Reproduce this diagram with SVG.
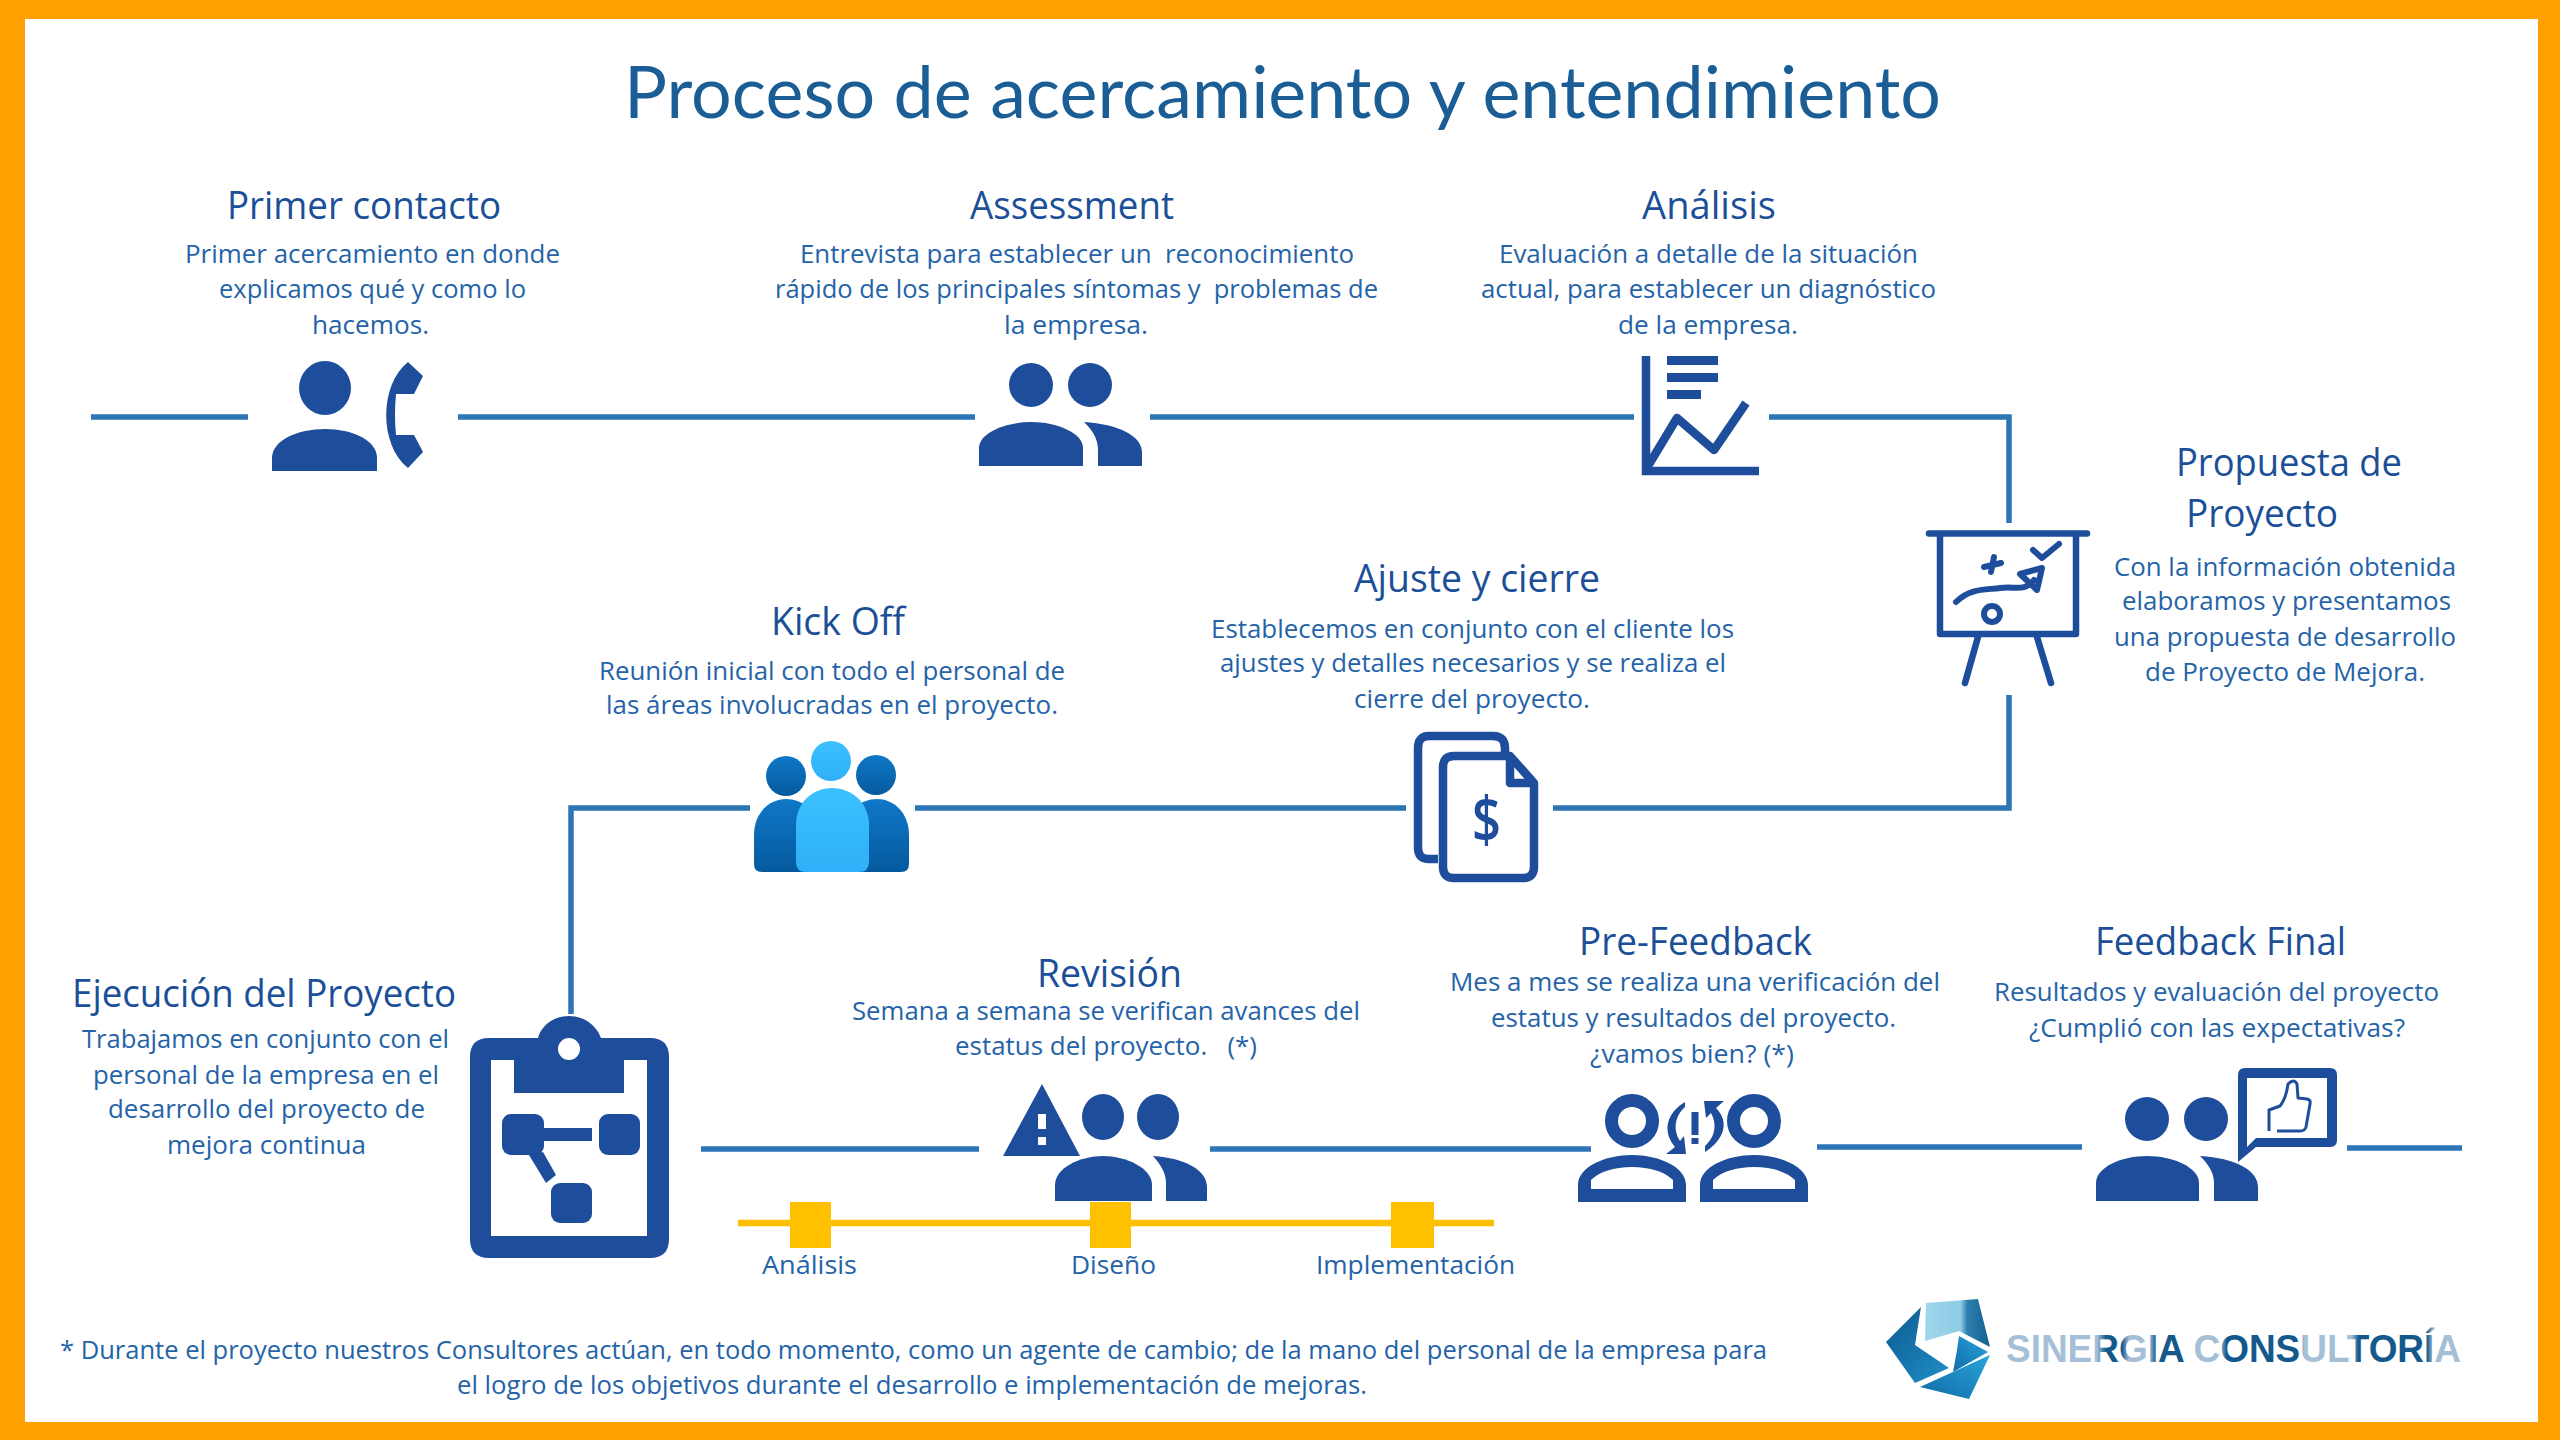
<svg xmlns="http://www.w3.org/2000/svg" width="2560" height="1440" viewBox="0 0 2560 1440">
<style>
text{white-space:pre}
.b{font:25.500px "Open Sans","Noto Sans",sans-serif;fill:#2563a8}
.h{font:500 38px "Open Sans","Noto Sans",sans-serif;fill:#1b4f97}
.c{fill:none;stroke:#2e75b6;stroke-width:5.5}
.i{fill:#1e4d9b}
.s{fill:none;stroke:#1e4d9b;stroke-linecap:round;stroke-linejoin:round}
</style>
<defs>
<linearGradient id="gd" x1="0" y1="0" x2="0" y2="1"><stop offset="0" stop-color="#0f78c8"/><stop offset="1" stop-color="#055a9e"/></linearGradient>
<linearGradient id="gl" x1="0" y1="0" x2="0" y2="1"><stop offset="0" stop-color="#3cc0ff"/><stop offset="1" stop-color="#2fb0f8"/></linearGradient>
<linearGradient id="lg1" x1="0" y1="0" x2="1" y2="1"><stop offset="0" stop-color="#0d5a8f"/><stop offset="1" stop-color="#1f8fc8"/></linearGradient>
<linearGradient id="lg2" x1="0" y1="0" x2="1" y2="0"><stop offset="0" stop-color="#9fd6ec"/><stop offset=".55" stop-color="#8ecbe4"/><stop offset=".65" stop-color="#2f7fb0"/><stop offset="1" stop-color="#11608f"/></linearGradient>
<linearGradient id="lg3" x1="0" y1="1" x2="1" y2="0"><stop offset="0" stop-color="#0f6ca6"/><stop offset="1" stop-color="#2aa3dc"/></linearGradient>
<linearGradient id="lt" gradientUnits="userSpaceOnUse" x1="2006" y1="0" x2="2461" y2="0">
<stop offset="0" stop-color="#a5bfd6"/><stop offset=".2" stop-color="#a5bfd6"/><stop offset=".22" stop-color="#15588c"/><stop offset=".255" stop-color="#15588c"/><stop offset=".27" stop-color="#a5bfd6"/><stop offset=".315" stop-color="#a5bfd6"/><stop offset=".33" stop-color="#15588c"/><stop offset=".39" stop-color="#15588c"/><stop offset=".41" stop-color="#a5bfd6"/><stop offset=".47" stop-color="#a5bfd6"/><stop offset=".485" stop-color="#15588c"/><stop offset=".64" stop-color="#15588c"/><stop offset=".655" stop-color="#a5bfd6"/><stop offset=".76" stop-color="#a5bfd6"/><stop offset=".775" stop-color="#15588c"/><stop offset=".925" stop-color="#15588c"/><stop offset=".94" stop-color="#a5bfd6"/><stop offset="1" stop-color="#a5bfd6"/>
</linearGradient>
</defs>
<rect width="2560" height="1440" fill="#ff9f00"/>
<rect x="25" y="19" width="2513" height="1403" fill="#fff"/>
<text id="title" x="624" y="118" textLength="1317" lengthAdjust="spacingAndGlyphs" style="font:400 72px Lato,'Open Sans',sans-serif;fill:#1b5e96">Proceso de acercamiento y entendimiento</text>

<g id="connectors">
<path class="c" d="M91 417H248M458 417H975M1150 417H1634M1769 417H2009V523M2009 695V808H1553M1406 808H915M750 808H571V1014M701 1149H979M1210 1149H1591M1817 1147H2082M2347 1148H2462"/>
</g>

<g id="timeline">
<path d="M738 1223H1494" stroke="#ffc000" stroke-width="6.5" fill="none"/>
<rect x="790" y="1202" width="41" height="46" fill="#ffc000"/>
<rect x="1090" y="1202" width="41" height="46" fill="#ffc000"/>
<rect x="1391" y="1202" width="43" height="46" fill="#ffc000"/>
<text class="b" x="762" y="1274" textLength="95" lengthAdjust="spacingAndGlyphs">Análisis</text>
<text class="b" x="1071" y="1274" textLength="85" lengthAdjust="spacingAndGlyphs">Diseño</text>
<text class="b" x="1316" y="1274" textLength="199" lengthAdjust="spacingAndGlyphs">Implementación</text>
</g>

<g id="primer-contacto">
<text class="h" x="227" y="218.500" textLength="274" lengthAdjust="spacingAndGlyphs">Primer contacto</text>
<text class="b" x="185" y="263" textLength="375" lengthAdjust="spacingAndGlyphs">Primer acercamiento en donde</text>
<text class="b" x="219" y="298" textLength="307" lengthAdjust="spacingAndGlyphs">explicamos qué y como lo</text>
<text class="b" x="312" y="334" textLength="117" lengthAdjust="spacingAndGlyphs">hacemos.</text>
<ellipse class="i" cx="325" cy="388" rx="26" ry="27"/>
<path class="i" d="M272 471V458C272 440 298 429 325 429S377 440 377 458V471Z"/>
<path class="i" d="M408 362L423 376L414 394H396Q394 415 396 435H414L423 452L408 468C379 445 379 385 408 362Z"/>
</g>

<g id="assessment">
<text class="h" x="970" y="218.500" textLength="204" lengthAdjust="spacingAndGlyphs">Assessment</text>
<text class="b" x="800" y="263" textLength="554" lengthAdjust="spacingAndGlyphs">Entrevista para establecer un  reconocimiento</text>
<text class="b" x="775" y="298" textLength="603" lengthAdjust="spacingAndGlyphs">rápido de los principales síntomas y  problemas de</text>
<text class="b" x="1004" y="334" textLength="144" lengthAdjust="spacingAndGlyphs">la empresa.</text>
<ellipse class="i" cx="1031" cy="385" rx="22" ry="22"/>
<ellipse class="i" cx="1090" cy="385" rx="22" ry="22"/>
<path class="i" d="M979 466V448C979 433 1005 422 1031 422S1083 433 1083 448V466Z"/>
<path class="i" d="M1084 422C1118 424 1142 436 1142 452V466H1098V450C1098 438 1092 430 1084 422Z"/>
</g>

<g id="analisis">
<text class="h" x="1642" y="218.500" textLength="134" lengthAdjust="spacingAndGlyphs">Análisis</text>
<text class="b" x="1499" y="263" textLength="419" lengthAdjust="spacingAndGlyphs">Evaluación a detalle de la situación</text>
<text class="b" x="1481" y="298" textLength="455" lengthAdjust="spacingAndGlyphs">actual, para establecer un diagnóstico</text>
<text class="b" x="1618" y="334" textLength="180" lengthAdjust="spacingAndGlyphs">de la empresa.</text>
<path d="M1646 356V471H1759" fill="none" stroke="#1e4d9b" stroke-width="8.5"/>
<path class="i" d="M1667 356h51v9h-51zM1667 373h51v9h-51zM1667 390h34v9h-34z"/>
<path d="M1648 466L1677 418L1714 450L1746 403" fill="none" stroke="#1e4d9b" stroke-width="8.5" stroke-linejoin="round"/>
</g>

<g id="propuesta">
<text class="h" x="2176" y="476" textLength="226" lengthAdjust="spacingAndGlyphs">Propuesta de</text>
<text class="h" x="2186" y="527" textLength="152" lengthAdjust="spacingAndGlyphs">Proyecto</text>
<text class="b" x="2114" y="576" textLength="342" lengthAdjust="spacingAndGlyphs">Con la información obtenida</text>
<text class="b" x="2122" y="610" textLength="329" lengthAdjust="spacingAndGlyphs">elaboramos y presentamos</text>
<text class="b" x="2114" y="646" textLength="342" lengthAdjust="spacingAndGlyphs">una propuesta de desarrollo</text>
<text class="b" x="2145" y="681" textLength="280" lengthAdjust="spacingAndGlyphs">de Proyecto de Mejora.</text>
<path class="s" stroke-width="6.5" d="M1929 533.500H2087M1940 534V634H2076V534M1978 637L1965 683M2037 637L2051 683"/>
<path class="s" stroke-width="6" d="M1984 567L2001 563M1994 557L1991 572M2033 550L2042 558L2059 544M1956 602C1970 588 1985 590 2000 588S2025 592 2034 580M2020 574L2042 568L2037 590Z"/>
<circle cx="1992" cy="614" r="8" fill="none" stroke="#1e4d9b" stroke-width="6"/>
</g>

<g id="ajuste">
<text class="h" x="1354" y="592" textLength="246" lengthAdjust="spacingAndGlyphs">Ajuste y cierre</text>
<text class="b" x="1211" y="638" textLength="523" lengthAdjust="spacingAndGlyphs">Establecemos en conjunto con el cliente los</text>
<text class="b" x="1220" y="672" textLength="506" lengthAdjust="spacingAndGlyphs">ajustes y detalles necesarios y se realiza el</text>
<text class="b" x="1354" y="708" textLength="236" lengthAdjust="spacingAndGlyphs">cierre del proyecto.</text>
<path d="M1438 859H1429Q1418 859 1418 848V748Q1418 736 1429 736H1493Q1505 736 1505 748V756" fill="none" stroke="#1e4d9b" stroke-width="8.500"/>
<path d="M1510 756H1454Q1443 756 1443 767V867Q1443 878 1454 878H1523Q1534 878 1534 867V783ZM1510 756V783H1534" fill="none" stroke="#1e4d9b" stroke-width="8.500" stroke-linejoin="round"/>
<text x="1472" y="842" textLength="29" lengthAdjust="spacingAndGlyphs" style="font:600 63px 'Open Sans',sans-serif;fill:#1e4d9b">$</text>
</g>

<g id="kick-off">
<text class="h" x="771" y="634.500" textLength="134" lengthAdjust="spacingAndGlyphs">Kick Off</text>
<text class="b" x="599" y="680" textLength="466" lengthAdjust="spacingAndGlyphs">Reunión inicial con todo el personal de</text>
<text class="b" x="606" y="714" textLength="452" lengthAdjust="spacingAndGlyphs">las áreas involucradas en el proyecto.</text>
<ellipse cx="786" cy="776" rx="20" ry="20" fill="url(#gd)"/>
<ellipse cx="876" cy="775" rx="20" ry="20" fill="url(#gd)"/>
<path d="M754 864V835C754 812 770 799 786 799S818 812 830 830V872H762Q754 872 754 864Z" fill="url(#gd)"/>
<path d="M909 864V835C909 812 893 799 877 799S845 812 833 830V872H901Q909 872 909 864Z" fill="url(#gd)"/>
<ellipse cx="831" cy="761" rx="20" ry="20" fill="url(#gl)"/>
<path d="M796 862V825C796 803 812 788 832 788S869 803 869 825V862Q869 872 859 872H806Q796 872 796 862Z" fill="url(#gl)"/>
</g>

<g id="ejecucion">
<text class="h" x="72" y="1006.500" textLength="384" lengthAdjust="spacingAndGlyphs">Ejecución del Proyecto</text>
<text class="b" x="82" y="1048" textLength="367" lengthAdjust="spacingAndGlyphs">Trabajamos en conjunto con el</text>
<text class="b" x="93" y="1084" textLength="346" lengthAdjust="spacingAndGlyphs">personal de la empresa en el</text>
<text class="b" x="108" y="1118" textLength="317" lengthAdjust="spacingAndGlyphs">desarrollo del proyecto de</text>
<text class="b" x="167" y="1154" textLength="199" lengthAdjust="spacingAndGlyphs">mejora continua</text>
<path fill-rule="evenodd" class="i" d="M538 1038C542 1024 555 1016 569 1016S596 1024 601 1038H650Q669 1038 669 1057V1239Q669 1258 650 1258H489Q470 1258 470 1239V1057Q470 1038 489 1038ZM491 1060V1236H647V1060H624V1093H514V1060ZM580 1049A11 11 0 1 0 558 1049A11 11 0 1 0 580 1049Z"/>
<rect class="i" x="502" y="1114" width="42" height="41" rx="9"/>
<rect class="i" x="599" y="1114" width="41" height="41" rx="9"/>
<rect class="i" x="551" y="1183" width="41" height="40" rx="9"/>
<path class="i" d="M544 1128H592V1141H544ZM529 1155L543 1152L556 1175L546 1183Z"/>
</g>

<g id="revision">
<text class="h" x="1037" y="986.500" textLength="145" lengthAdjust="spacingAndGlyphs">Revisión</text>
<text class="b" x="852" y="1020" textLength="508" lengthAdjust="spacingAndGlyphs">Semana a semana se verifican avances del</text>
<text class="b" x="955" y="1055" textLength="302" lengthAdjust="spacingAndGlyphs">estatus del proyecto.   (*)</text>
<path fill-rule="evenodd" class="i" d="M1042 1084L1080 1156H1003ZM1038 1114V1129H1046V1114ZM1038 1137V1145H1046V1137Z"/>
<ellipse class="i" cx="1103" cy="1117" rx="21" ry="23"/>
<ellipse class="i" cx="1158" cy="1117" rx="21" ry="23"/>
<path class="i" d="M1055 1201V1185C1055 1168 1080 1156 1103 1156S1152 1168 1152 1185V1201Z"/>
<path class="i" d="M1153 1156C1185 1158 1207 1170 1207 1187V1201H1166V1183C1166 1172 1160 1164 1153 1156Z"/>
</g>

<g id="pre-feedback">
<text class="h" x="1579" y="954.500" textLength="233" lengthAdjust="spacingAndGlyphs">Pre-Feedback</text>
<text class="b" x="1450" y="991" textLength="490" lengthAdjust="spacingAndGlyphs">Mes a mes se realiza una verificación del</text>
<text class="b" x="1491" y="1027" textLength="405" lengthAdjust="spacingAndGlyphs">estatus y resultados del proyecto.</text>
<text class="b" x="1590" y="1063" textLength="204" lengthAdjust="spacingAndGlyphs">¿vamos bien? (*)</text>
<circle cx="1632" cy="1121" r="20.500" fill="none" stroke="#1e4d9b" stroke-width="13"/>
<circle cx="1754" cy="1121" r="20.500" fill="none" stroke="#1e4d9b" stroke-width="13"/>
<path fill-rule="evenodd" class="i" d="M1578 1202V1185C1578 1167 1605 1155 1632 1155S1686 1167 1686 1185V1202ZM1591 1189H1673V1180C1665 1172 1650 1167 1632 1167S1599 1172 1591 1180Z"/>
<path fill-rule="evenodd" class="i" d="M1700 1202V1185C1700 1167 1727 1155 1754 1155S1808 1167 1808 1185V1202ZM1713 1189H1795V1180C1787 1172 1772 1167 1754 1167S1721 1172 1713 1180Z"/>
<path class="i" d="M1691.500 1112h7v23h-7zM1691.500 1138h7v6h-7z"/>
<path class="i" d="M1685 1102C1668 1112 1661 1130 1675 1147L1666 1154H1686L1684 1136L1680 1141C1672 1128 1676 1115 1685 1107Z"/>
<path class="i" d="M1705 1152C1724 1140 1730 1122 1716 1108L1724 1101H1704L1706 1118L1711 1113C1718 1126 1714 1138 1705 1146Z"/>
</g>

<g id="feedback-final">
<text class="h" x="2095" y="954.500" textLength="251" lengthAdjust="spacingAndGlyphs">Feedback Final</text>
<text class="b" x="1994" y="1001" textLength="445" lengthAdjust="spacingAndGlyphs">Resultados y evaluación del proyecto</text>
<text class="b" x="2029" y="1037" textLength="376" lengthAdjust="spacingAndGlyphs">¿Cumplió con las expectativas?</text>
<ellipse class="i" cx="2147" cy="1119" rx="22" ry="22"/>
<ellipse class="i" cx="2206" cy="1119" rx="22" ry="22"/>
<path class="i" d="M2096 1201V1183C2096 1167 2122 1156 2147 1156S2199 1167 2199 1183V1201Z"/>
<path class="i" d="M2200 1156C2235 1158 2258 1170 2258 1187V1201H2214V1183C2214 1172 2208 1164 2200 1156Z"/>
<path fill-rule="evenodd" class="i" d="M2238 1162V1075Q2238 1068 2245 1068H2330Q2337 1068 2337 1075V1140Q2337 1147 2330 1147H2256ZM2247 1078V1147L2256 1138H2327V1078Z"/>
<path fill="none" stroke="#1e4d9b" stroke-width="3" stroke-linejoin="round" d="M2269 1131V1110L2280 1106C2285 1100 2287 1092 2288 1084Q2294 1078 2297 1084L2298 1098L2307 1099Q2311 1100 2310 1104L2306 1127Q2305 1131 2300 1131H2277"/>
</g>

<g id="footer">
<text class="b" x="60" y="1359" textLength="1707" lengthAdjust="spacingAndGlyphs">* Durante el proyecto nuestros Consultores actúan, en todo momento, como un agente de cambio; de la mano del personal de la empresa para</text>
<text class="b" x="457" y="1394" textLength="910" lengthAdjust="spacingAndGlyphs">el logro de los objetivos durante el desarrollo e implementación de mejoras.</text>
</g>

<g id="logo">
<path fill="url(#lg1)" d="M1921 1307L1886 1342L1915 1383L1949 1368L1915 1345Z"/>
<path fill="url(#lg2)" d="M1926 1303L1978 1299L1990 1347L1959 1331L1925 1341Z"/>
<path fill="url(#lg3)" d="M1959 1336L1988 1352L1953 1372L1957 1350Z"/>
<path fill="url(#lg3)" d="M1920 1387L1990 1355L1969 1399Z"/>
<text x="2006" y="1362" textLength="455" lengthAdjust="spacingAndGlyphs" style="font:700 38px 'Liberation Sans',sans-serif;fill:url(#lt)">SINERGIA CONSULTORÍA</text>
</g>
</svg>
